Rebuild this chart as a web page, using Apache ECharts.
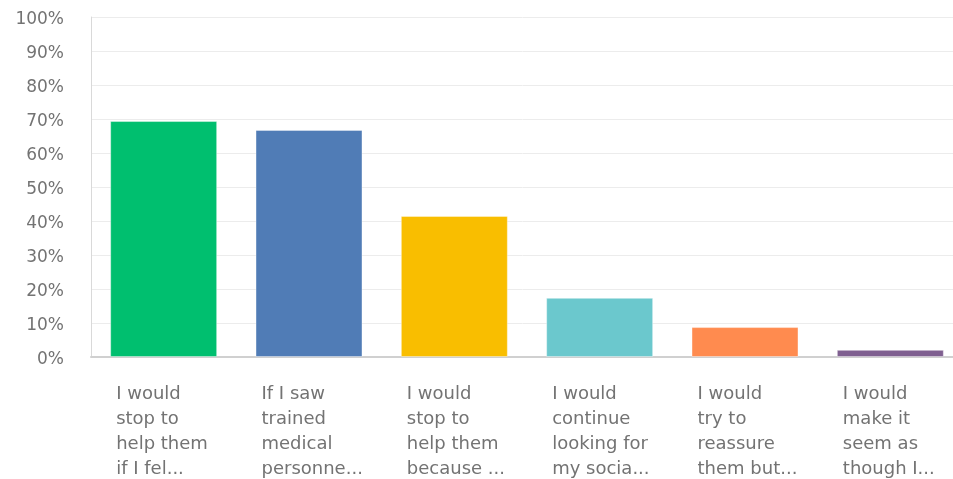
<!DOCTYPE html>
<html>
<head>
<meta charset="utf-8">
<script src="https://cdn.jsdelivr.net/npm/echarts@6/dist/echarts.min.js"></script>
<style>
  html, body { margin: 0; padding: 0; background: #fff; }
  #chart { width: 953px; height: 479px; }
</style>
</head>
<body>
<div id="chart"></div>
<script>
const categories = [
  'I would\nstop to\nhelp them\nif I fel...',
  'If I saw\ntrained\nmedical\npersonne...',
  'I would\nstop to\nhelp them\nbecause ...',
  'I would\ncontinue\nlooking for\nmy socia...',
  'I would\ntry to\nreassure\nthem but...',
  'I would\nmake it\nseem as\nthough I...'
];
const values = [69.4, 66.8, 41.5, 17.4, 8.8, 2.1];
const colors = ['#00bf6f', '#507cb6', '#f9be00', '#6bc8cd', '#ff8b4f', '#7f5f90'];

const chart = echarts.init(document.getElementById('chart'));

chart.setOption({
  animation: false,
  grid: {
    left: 91, top: 17, width: 872, height: 340,
    containLabel: false,
    outerBoundsMode: 'none'
  },
  xAxis: {
    type: 'category',
    data: categories,
    axisLine: { lineStyle: { color: '#d0d0d0', width: 2 } },
    axisTick: { show: false },
    axisLabel: {
      interval: 0,
      margin: 25,
      formatter: (v) => v.split('\n').map((l) => '{t|' + l + '}').join('\n'),
      rich: {
        t: {
          width: 95,
          align: 'left',
          fontFamily: 'DejaVu Sans',
          fontSize: 18,
          lineHeight: 25,
          color: '#737373'
        }
      }
    }
  },
  yAxis: {
    type: 'value',
    min: 0,
    max: 100,
    interval: 10,
    axisLine: { show: true, lineStyle: { color: '#d9d9d9', width: 1 } },
    axisTick: { show: false },
    splitLine: { lineStyle: { color: '#ececec', width: 1 } },
    axisLabel: {
      formatter: (v) => '{v|' + v + '%}',
      margin: 27,
      rich: {
        v: {
          padding: [5, 0, 0, 0],
          fontFamily: 'DejaVu Sans',
          fontSize: 17,
          color: '#737373'
        }
      }
    }
  },
  series: [{
    type: 'bar',
    barWidth: 107,
    data: values.map((v, i) => ({
      value: v,
      itemStyle: { color: colors[i] }
    })),
    itemStyle: { borderColor: 'rgba(255,255,255,0.4)', borderWidth: 1 }
  }]
});
</script>
</body>
</html>
